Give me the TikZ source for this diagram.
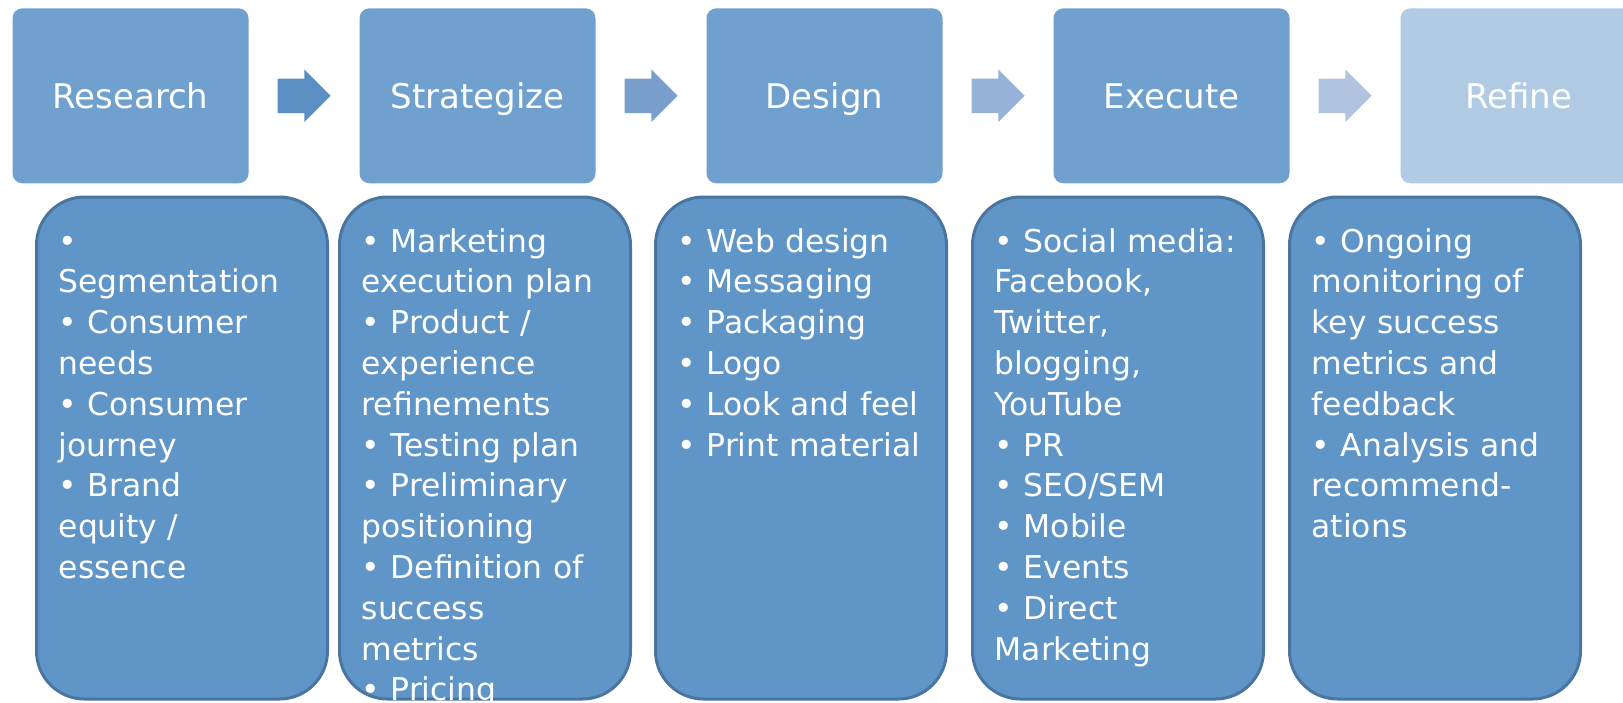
\documentclass[tikz,border=0pt]{standalone}
\usepackage{fontspec}
\setmainfont{DejaVu Sans}
\usepackage{xcolor}
\definecolor{stage}{RGB}{112,160,206}
\definecolor{stagelight}{RGB}{176,203,227}
\definecolor{detail}{RGB}{96,150,199}
\definecolor{detailedge}{RGB}{74,117,160}
\definecolor{arrowA}{RGB}{91,142,194}
\definecolor{arrowB}{RGB}{122,159,205}
\definecolor{arrowC}{RGB}{149,179,216}
\definecolor{arrowD}{RGB}{176,196,224}
\usetikzlibrary{shapes,positioning,calc}

\begin{document}
\begin{tikzpicture}[x=1pt, y=-1pt,
  stagebox/.style={fill=stage, rounded corners=10pt, minimum width=236pt, minimum height=175pt, inner sep=0pt, outer sep=0pt, text=white, font=\fontsize{34pt}{40pt}\selectfont, text height=25pt, text depth=0pt},
  detailbox/.style={fill=detail, draw=detailedge, line width=3pt, rounded corners=48pt, minimum width=291pt, minimum height=502pt, inner sep=0pt, outer sep=0pt},
  items/.style={text=white, font=\fontsize{31.4pt}{40.8pt}\selectfont, text width=280pt, align=left, inner sep=0pt, anchor=base west},
  blockarrow/.style={single arrow, single arrow head extend=9pt, inner xsep=0pt, inner ysep=17pt, minimum height=53pt, outer sep=0pt, xshift=-8.5pt}
]
\path[use as bounding box, fill=white] (0,0) rectangle (1623,702);

% process stages
\node[stagebox] (research) at (130.5,95.8) {Research};
\node[stagebox, right=111pt of research] (strategize) {Strategize};
\node[stagebox, right=111pt of strategize] (design) {Design};
\node[stagebox, right=111pt of design] (execute) {Execute};
\node[stagebox, fill=stagelight, right=111pt of execute] (refine) {Refine};

\node[blockarrow, fill=arrowA] (arr1) at ($(research.east)!0.5!(strategize.west)$) {};
\node[blockarrow, fill=arrowB] (arr2) at ($(strategize.east)!0.5!(design.west)$) {};
\node[blockarrow, fill=arrowC] (arr3) at ($(design.east)!0.5!(execute.west)$) {};
\node[blockarrow, fill=arrowD] (arr4) at ($(execute.east)!0.5!(refine.west)$) {};

% detail panels
\node[detailbox] (researchlist) at (182,448) {};
\node[detailbox, right=12pt of researchlist] (strategizelist) {};
\node[detailbox, right=25pt of strategizelist] (designlist) {};
\node[detailbox, right=26pt of designlist] (executelist) {};
\node[detailbox, right=26pt of executelist] (refinelist) {};

\node[items] (researchtext) at ([xshift=22pt,yshift=-55pt]researchlist.north west) {%
  •\\Segmentation\\• Consumer\\needs\\• Consumer\\journey\\• Brand\\equity /\\essence};
\node[items] (strategizetext) at ([xshift=22pt,yshift=-55pt]strategizelist.north west) {%
  • Marketing\\execution plan\\• Product /\\experience\\refinements\\• Testing plan\\• Preliminary\\positioning\\• Definition of\\success\\metrics\\• Pricing};
\node[items] (designtext) at ([xshift=22pt,yshift=-55pt]designlist.north west) {%
  • Web design\\• Messaging\\• Packaging\\• Logo\\• Look and feel\\• Print material};
\node[items] (executetext) at ([xshift=22pt,yshift=-55pt]executelist.north west) {%
  • Social media:\\Facebook,\\Twitter,\\blogging,\\YouTube\\• PR\\• SEO/SEM\\• Mobile\\• Events\\• Direct\\Marketing};
\node[items] (refinetext) at ([xshift=22pt,yshift=-55pt]refinelist.north west) {%
  • Ongoing\\monitoring of\\key success\\metrics and\\feedback\\• Analysis and\\recommend-\\ations};
\end{tikzpicture}
\end{document}
